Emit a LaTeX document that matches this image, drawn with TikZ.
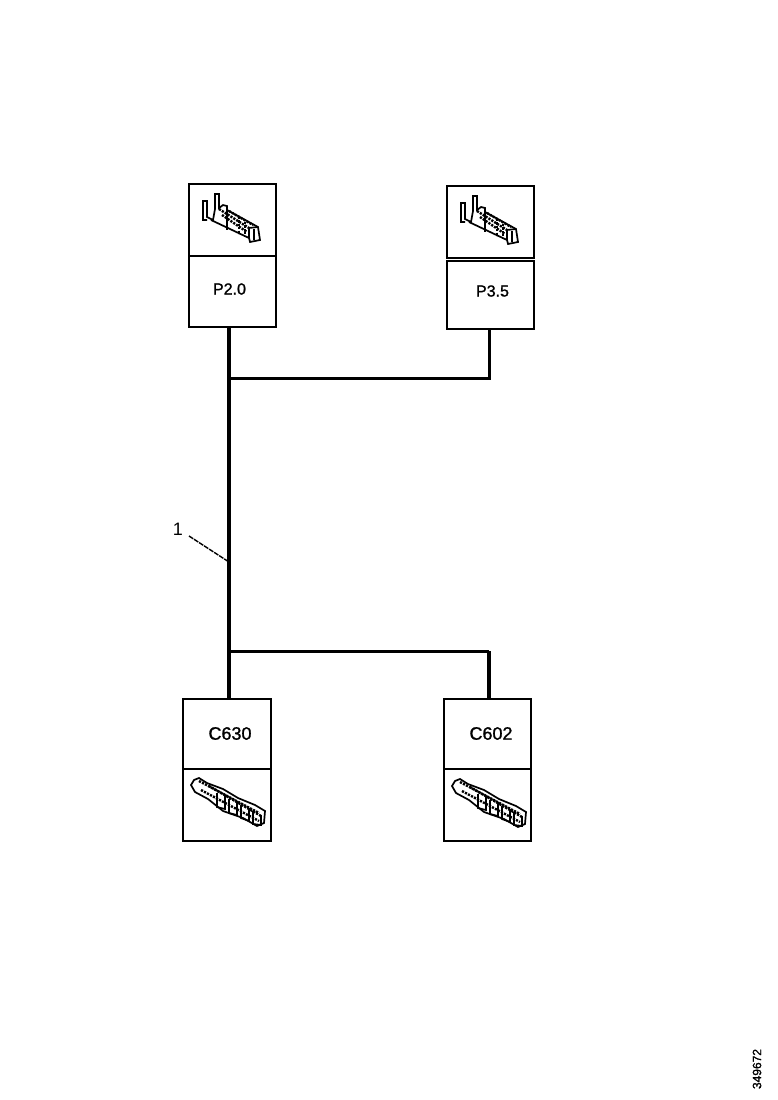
\documentclass[tikz,border=0pt]{standalone}
\usepackage{fontspec}
\setmainfont{Liberation Sans}
\newfontfamily\roughfont[FakeBold=1.2]{Liberation Sans}
\tikzset{
  x=1pt,y=-1pt,
  cell/.style={draw=black,line width=1.6pt,fill=white,inner sep=0pt,outer sep=0pt,minimum width=87pt},
  icon/.style={cell,minimum height=72pt},
  lab/.style={cell,minimum height=71pt},
  captxt/.style={font=\roughfont\fontsize{16}{16}\selectfont},
  captxtw/.style={font=\roughfont\fontsize{18}{18}\selectfont},
  wire/.style={draw=black,line width=3pt},
  heavy/.style={draw=black,line width=4pt},
  term/.style={draw=black,line width=1.7pt,line join=miter},
  hatch/.style={draw=black,line width=2.4pt,dash pattern=on 2.2pt off 1.2pt},
  leaderline/.style={draw=black,line width=1.4pt,dash pattern=on 5pt off 1pt},
}
% upper terminal, origin = upper left corner of its cell
\newcommand{\termup}[2]{\begin{scope}[shift={(#1,#2)}]
  \draw[term] (18,36) -- (14,36) -- (14,17) -- (18,17) -- (18,33) -- (24,36) -- (26,25) -- (26,10) -- (30,10) -- (30,24) -- (34,21) -- (38,22) -- (38,26) -- (69,43) -- (71,56) -- (61,58) -- (60,54) -- (22,36);
  \draw[term] (60,54) -- (60,44) -- (69,43);
  \draw[term] (65,45) -- (65,56);
  \draw[hatch] (30,25) -- (60,44);
  \draw[hatch] (33,31) -- (58,48);
  \draw[hatch] (40,27) -- (64,41);
  \draw[term] (38,26) -- (38,46);
  \draw[hatch] (50,33) -- (50,50);
  \draw[hatch] (56,38) -- (56,52);
\end{scope}}
% lower terminal, origin = upper left corner of its cell
\newcommand{\termdn}[2]{\begin{scope}[shift={(#1,#2)}]
  \draw[term] (11,11) -- (16,9) -- (24,14) -- (40,20) -- (55,29) -- (72,36) -- (82,42) -- (81,54) -- (74,57) -- (60,49) -- (40,42) -- (25,30) -- (12,23) -- (8,16) -- cycle;
  \draw[hatch] (16,12) -- (76,44);
  \draw[hatch] (18,21) -- (76,52);
  \draw[hatch] (26,17) -- (78,47);
  \draw[term] (34,24) -- (34,38) -- (42,40) -- (42,26);
  \draw[term] (46,30) -- (46,44) -- (54,46) -- (54,32);
  \draw[term] (58,36) -- (58,49) -- (66,52) -- (66,39);
  \draw[term] (70,42) -- (70,55) -- (78,56) -- (78,46);
\end{scope}}
\begin{document}
\begin{tikzpicture}
\useasboundingbox (0,0) rectangle (778,1100);
\fill[white] (0,0) rectangle (778,1100);
% connector blocks
\node[icon,anchor=north west] (p20i) at (189,184) {};
\node[lab,anchor=north west] (p20) at (189,256) {};
\node[icon,anchor=north west] (p35i) at (447,186) {};
\node[lab,anchor=north west,minimum height=68pt] (p35) at (447,261) {};
\node[lab,anchor=north west,minimum width=88pt,minimum height=70pt] (c630) at (183,699) {};
\node[icon,anchor=north west,minimum width=88pt] (c630i) at (183,769) {};
\node[lab,anchor=north west,minimum height=70pt] (c602) at (444,699) {};
\node[icon,anchor=north west] (c602i) at (444,769) {};
% texts
\node[captxt] (t1) at (229.5,289) {P2.0};
\node[captxt] (t2) at (492.5,291) {P3.5};
\node[captxtw] (t3) at (230,733.5) {C630};
\node[captxtw] (t4) at (491,733.5) {C602};
\termup{189}{184}
\termup{447}{186}
\termdn{183}{769}
\termdn{444}{770}
% junctions
\coordinate (j1) at (229,378);
\coordinate (j2) at (489,378);
\coordinate (j3) at (229,651);
\coordinate (j4) at (489,651);
\coordinate (j5) at (229,562);
% wires
\draw[heavy] (p20.south -| j1) -- (c630.north -| j1);
\draw[wire] (j1) -- (j2) -- (p35.south -| j2);
\draw[wire] (j3) -- (j4);
\draw[heavy] (j4) -- (c602.north -| j4);
% leader and label
\node[font=\fontsize{18}{18}\selectfont] (one) at (178,529) {1};
\coordinate (l0) at (189,536);
\draw[leaderline] (l0) -- (j5);
% drawing number
\node[rotate=90,font=\roughfont\fontsize{12}{12}\selectfont] (num) at (757,1069) {349672};
\end{tikzpicture}
\end{document}
